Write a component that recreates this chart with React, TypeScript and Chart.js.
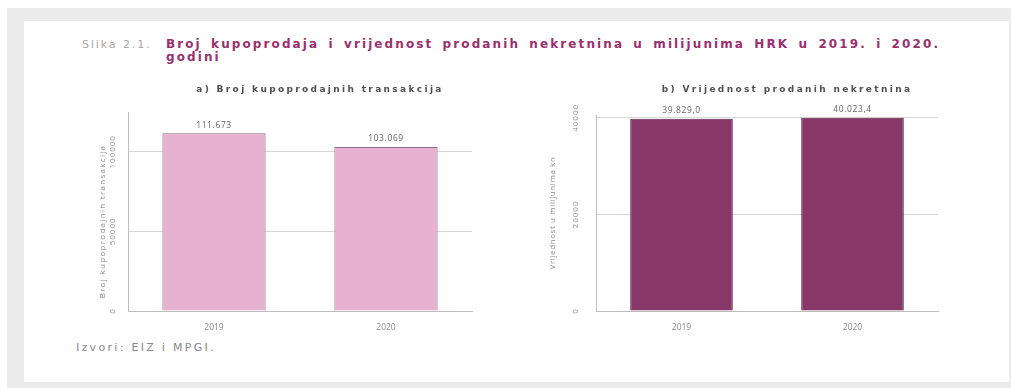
import React, { useEffect, useRef } from 'react';
import { Chart, registerables } from 'chart.js';
Chart.register(...registerables);

const FONT = '"Open Sans", "DejaVu Sans", sans-serif';
const WIDE = '"DejaVu Sans", sans-serif';

const years = ['2019', '2020'];
const transactions = [111673, 103069];
const transactionLabels = ['111.673', '103.069'];
const transactionTicks = [0, 50000, 100000];
const saleValues = [39829.0, 40023.4];
const saleValueLabels = ['39.829,0', '40.023,4'];
const saleValueTicks = [0, 20000, 40000];

const decor = {
  id: 'decor',
  afterDraw(chart: any, _args: any, opts: any) {
    const ctx = chart.ctx as CanvasRenderingContext2D;
    const ca = chart.chartArea;
    const y = chart.scales.y;
    ctx.save();
    ctx.textAlign = 'center';
    ctx.textBaseline = 'middle';
    // panel title
    ctx.font = `bold 9px ${WIDE}`;
    (ctx as any).letterSpacing = '2.35px';
    ctx.fillStyle = '#505050';
    ctx.fillText(opts.title, opts.titleX, opts.titleY);
    // y tick labels (rotated)
    ctx.font = `400 8px ${FONT}`;
    (ctx as any).letterSpacing = '1px';
    ctx.fillStyle = '#8a8a8a';
    y.ticks.forEach((t: any) => {
      const py = y.getPixelForValue(t.value);
      ctx.save();
      ctx.translate(opts.tickX, py);
      ctx.rotate(-Math.PI / 2);
      ctx.fillText(String(t.value), 0, 0);
      ctx.restore();
    });
    // y axis title
    ctx.save();
    (ctx as any).letterSpacing = opts.axisTitleSpacing;
    ctx.translate(opts.axisTitleX, (ca.top + ca.bottom) / 2 + opts.axisTitleShift);
    ctx.rotate(-Math.PI / 2);
    ctx.fillStyle = '#8a8a8a';
    ctx.fillText(opts.axisTitle, 0, 0);
    ctx.restore();
    // data labels
    ctx.font = `400 8.5px ${FONT}`;
    (ctx as any).letterSpacing = '0.6px';
    ctx.fillStyle = '#666';
    const meta = chart.getDatasetMeta(0);
    meta.data.forEach((bar: any, i: number) => {
      ctx.fillText(opts.labels[i], bar.x, bar.y - 8);
    });
    ctx.restore();
  },
};

type PanelProps = {
  left: number; top: number; width: number; height: number;
  data: number[]; labels: string[]; max: number; ticks: number[];
  fill: string; border: string;
  padTop: number; padRight: number; yWidth: number; xHeight: number;
  title: string; titleX: number; titleY: number;
  tickX: number; axisTitle: string; axisTitleX: number; axisTitleShift: number; axisTitleSpacing: string;
};

function Panel(p: PanelProps) {
  const ref = useRef<HTMLCanvasElement>(null);
  useEffect(() => {
    const chart = new Chart(ref.current!, {
      type: 'bar',
      data: {
        labels: years,
        datasets: [{
          data: p.data,
          backgroundColor: p.fill,
          borderColor: p.border,
          borderWidth: 1,
          barPercentage: 0.6,
          categoryPercentage: 1.0,
        }],
      },
      options: {
        animation: false,
        responsive: false,
        maintainAspectRatio: false,
        layout: { padding: { top: p.padTop, right: p.padRight, left: 0, bottom: 0 } },
        plugins: {
          legend: { display: false },
          tooltip: { enabled: false },
          title: { display: false },
          decor: {
            title: p.title, titleX: p.titleX, titleY: p.titleY,
            tickX: p.tickX, axisTitle: p.axisTitle, axisTitleX: p.axisTitleX,
            axisTitleShift: p.axisTitleShift, axisTitleSpacing: p.axisTitleSpacing, labels: p.labels,
          },
        } as any,
        scales: {
          x: {
            grid: { display: false },
            border: { display: true, color: '#bdbdbd' },
            ticks: { color: '#8a8a8a', font: { family: FONT, size: 8.5 }, padding: 3 },
            afterFit: (s: any) => { s.height = p.xHeight; },
          },
          y: {
            min: 0,
            max: p.max,
            ticks: { display: false },
            afterBuildTicks: (s: any) => { s.ticks = p.ticks.map((v) => ({ value: v })); },
            grid: { color: '#d6d6d6', drawTicks: false },
            border: { display: true, color: '#bdbdbd' },
            afterFit: (s: any) => { s.width = p.yWidth; },
          },
        },
      },
      plugins: [decor],
    });
    return () => chart.destroy();
  }, []);
  return (
    <canvas
      ref={ref}
      width={p.width}
      height={p.height}
      style={{ position: 'absolute', left: p.left, top: p.top, width: p.width, height: p.height }}
    />
  );
}

export default function App() {
  return (
    <div style={{ position: 'absolute', left: 0, top: 0, width: 1011, height: 388, overflow: 'hidden' }}>
      <div style={{ position: 'absolute', left: 7, top: 8, width: 1004, height: 380, background: '#ebebeb' }} />
      <div style={{ position: 'absolute', left: 24, top: 21, width: 985, height: 361, background: '#ffffff' }} />
      <div style={{ position: 'absolute', left: 82, top: 38, fontFamily: WIDE, fontSize: 11, lineHeight: '13px', color: '#a8a8a8', letterSpacing: '1.9px' }}>
        Slika 2.1.
      </div>
      <div style={{ position: 'absolute', left: 166, top: 38, width: 830, fontFamily: WIDE, fontSize: 12, fontWeight: 'bold', lineHeight: '13px', color: '#9b2f6e', letterSpacing: '2.1px', wordSpacing: '3px', whiteSpace: 'nowrap' }}>
        Broj kupoprodaja i vrijednost prodanih nekretnina u milijunima HRK u 2019. i 2020.
        <br />
        godini
      </div>
      <Panel
        left={90} top={78} width={400} height={256}
        data={transactions} labels={transactionLabels} max={125000} ticks={transactionTicks}
        fill="#e7b1d1" border="#8f6c84"
        padTop={34} padRight={18} yWidth={38} xHeight={23}
        title="a) Broj kupoprodajnih transakcija" titleX={230} titleY={12}
        tickX={23} axisTitle="Broj kupoprodajnih transakcija" axisTitleX={13} axisTitleShift={10} axisTitleSpacing="1.3px"
      />
      <Panel
        left={540} top={78} width={460} height={256}
        data={saleValues} labels={saleValueLabels} max={40600} ticks={saleValueTicks}
        fill="#883868" border="#5e2448"
        padTop={37} padRight={62} yWidth={56} xHeight={23}
        title="b) Vrijednost prodanih nekretnina" titleX={247} titleY={12}
        tickX={36} axisTitle="Vrijednost u milijunima kn" axisTitleX={13} axisTitleShift={0} axisTitleSpacing="0.6px"
      />
      <div style={{ position: 'absolute', left: 76, top: 342, fontFamily: WIDE, fontSize: 11, lineHeight: '12px', color: '#8a8a8a', letterSpacing: '2.3px' }}>
        Izvori: EIZ i MPGI.
      </div>
    </div>
  );
}
